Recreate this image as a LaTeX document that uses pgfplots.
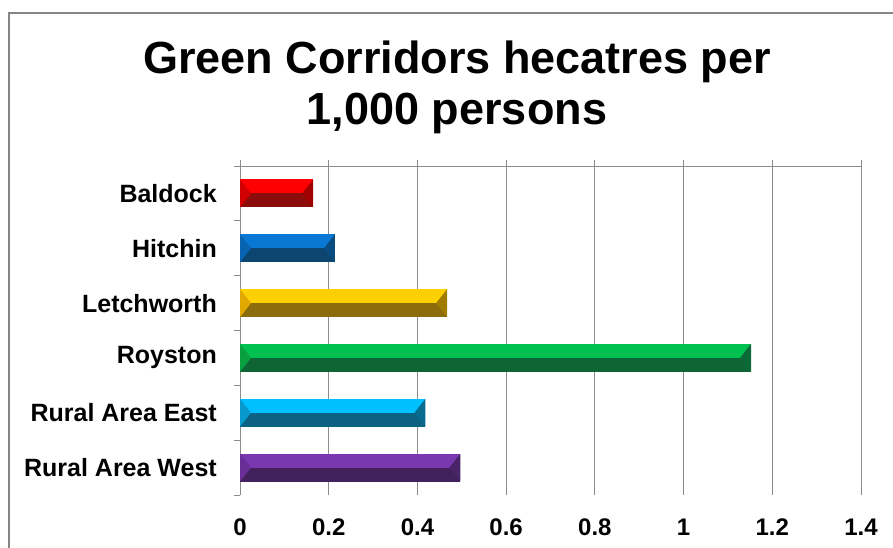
\documentclass[border=0pt]{standalone}
\usepackage{fontspec}
\setmainfont{Liberation Sans}
\usepackage{pgfplots}
\pgfplotsset{compat=1.18}
\definecolor{redL}{HTML}{FF0000}\definecolor{redD}{HTML}{8C0C0C}\definecolor{redA}{HTML}{D00000}\definecolor{redB}{HTML}{A00000}
\definecolor{bluL}{HTML}{0A78D2}\definecolor{bluD}{HTML}{0C4570}\definecolor{bluA}{HTML}{0864B0}\definecolor{bluB}{HTML}{0A4C80}
\definecolor{yelL}{HTML}{FFD000}\definecolor{yelD}{HTML}{8C6C0C}\definecolor{yelA}{HTML}{E0A800}\definecolor{yelB}{HTML}{A07C00}
\definecolor{grnL}{HTML}{00C050}\definecolor{grnD}{HTML}{0E6434}\definecolor{grnA}{HTML}{08A040}\definecolor{grnB}{HTML}{0C6A36}
\definecolor{cyaL}{HTML}{00C0FF}\definecolor{cyaD}{HTML}{0B6282}\definecolor{cyaA}{HTML}{0898CC}\definecolor{cyaB}{HTML}{086C90}
\definecolor{purL}{HTML}{7A38B0}\definecolor{purD}{HTML}{43215C}\definecolor{purA}{HTML}{6A2E98}\definecolor{purB}{HTML}{4A2468}
\definecolor{frame}{HTML}{868686}
\definecolor{gridc}{HTML}{8C8C8C}
\pgfdeclareplotmark{bevR}{\pgfpathmoveto{\pgfpoint{0pt}{14pt}}\pgfpathlineto{\pgfpoint{0pt}{-14pt}}\pgfpathlineto{\pgfpoint{-11pt}{0pt}}\pgfpathclose\pgfusepathqfill}
\pgfdeclareplotmark{bevL}{\pgfpathmoveto{\pgfpoint{0pt}{14pt}}\pgfpathlineto{\pgfpoint{0pt}{-14pt}}\pgfpathlineto{\pgfpoint{11pt}{0pt}}\pgfpathclose\pgfusepathqfill}
\pgfplotsset{
  dark/.style={xbar, bar shift=0, bar width=0.51, fill=#1, draw=none},
  light/.style={xbar, bar shift=0.1275, bar width=0.255, fill=#1, draw=none},
  endR/.style={only marks, mark=bevR, mark options={fill=#1, draw=none}},
  endL/.style={only marks, mark=bevL, mark options={fill=#1, draw=none}},
}
\begin{document}
\begin{tikzpicture}[x=1pt,y=1pt]
\useasboundingbox (0,0) rectangle (893,547);
\fill[white] (0,0) rectangle (893,547);
\draw[frame, line width=2.2pt] (9,-20) -- (9,534) -- (910,534);
\node[anchor=base, font=\fontsize{45}{50}\selectfont\bfseries] at (457,473) {Green Corridors hecatres per};
\node[anchor=base, font=\fontsize{45}{50}\selectfont\bfseries] at (457,422) {1,000 persons};
\begin{axis}[
  at={(240pt,52pt)}, anchor=south west,
  scale only axis, width=621pt, height=329pt,
  xmin=0, xmax=1.4, ymin=-0.5, ymax=5.5,
  xtick={0,0.2,...,1.4},
  xticklabels={0,0.2,0.4,0.6,0.8,1,1.2,1.4},
  xtick pos=upper, xticklabel pos=lower,
  tick align=outside,
  major tick length=6.5pt,
  xmajorgrids, grid style={gridc, line width=0.8pt},
  axis line style={draw=none},
  ytick={-0.5,0.5,...,5.5},
  yticklabels={},
  ytick pos=left,
  extra y ticks={0,1,2,3,4,5},
  extra y tick labels={Rural Area West,Rural Area East,Royston,Letchworth,Hitchin,Baldock},
  extra y tick style={major tick length=0pt,
    yticklabel style={anchor=east, inner sep=0pt, xshift=-23pt, font=\fontsize{25}{29}\selectfont\bfseries}},
  tick style={gridc, line width=0.8pt},
  xticklabel style={anchor=north, inner sep=0pt, yshift=-17pt, font=\fontsize{24}{28}\selectfont\bfseries},
  /pgf/number format/assume math mode=true,
  clip=false,
]
\draw[gridc, line width=0.8pt] (axis cs:0,5.5) -- (axis cs:1.4,5.5);
\draw[gridc, line width=0.8pt] (axis cs:0,-0.5) -- (axis cs:0,5.5);
% Baldock
\addplot[dark=redD] coordinates {(0.165,5)};
\addplot[light=redL] coordinates {(0.165,5)};
\addplot[endL=redA] coordinates {(0,5)};
\addplot[endR=redB] coordinates {(0.165,5)};
% Hitchin
\addplot[dark=bluD] coordinates {(0.214,4)};
\addplot[light=bluL] coordinates {(0.214,4)};
\addplot[endL=bluA] coordinates {(0,4)};
\addplot[endR=bluB] coordinates {(0.214,4)};
% Letchworth
\addplot[dark=yelD] coordinates {(0.467,3)};
\addplot[light=yelL] coordinates {(0.467,3)};
\addplot[endL=yelA] coordinates {(0,3)};
\addplot[endR=yelB] coordinates {(0.467,3)};
% Royston
\addplot[dark=grnD] coordinates {(1.152,2)};
\addplot[light=grnL] coordinates {(1.152,2)};
\addplot[endL=grnA] coordinates {(0,2)};
\addplot[endR=grnB] coordinates {(1.152,2)};
% Rural Area East
\addplot[dark=cyaD] coordinates {(0.418,1)};
\addplot[light=cyaL] coordinates {(0.418,1)};
\addplot[endL=cyaA] coordinates {(0,1)};
\addplot[endR=cyaB] coordinates {(0.418,1)};
% Rural Area West
\addplot[dark=purD] coordinates {(0.497,0)};
\addplot[light=purL] coordinates {(0.497,0)};
\addplot[endL=purA] coordinates {(0,0)};
\addplot[endR=purB] coordinates {(0.497,0)};
\end{axis}
\end{tikzpicture}
\end{document}
